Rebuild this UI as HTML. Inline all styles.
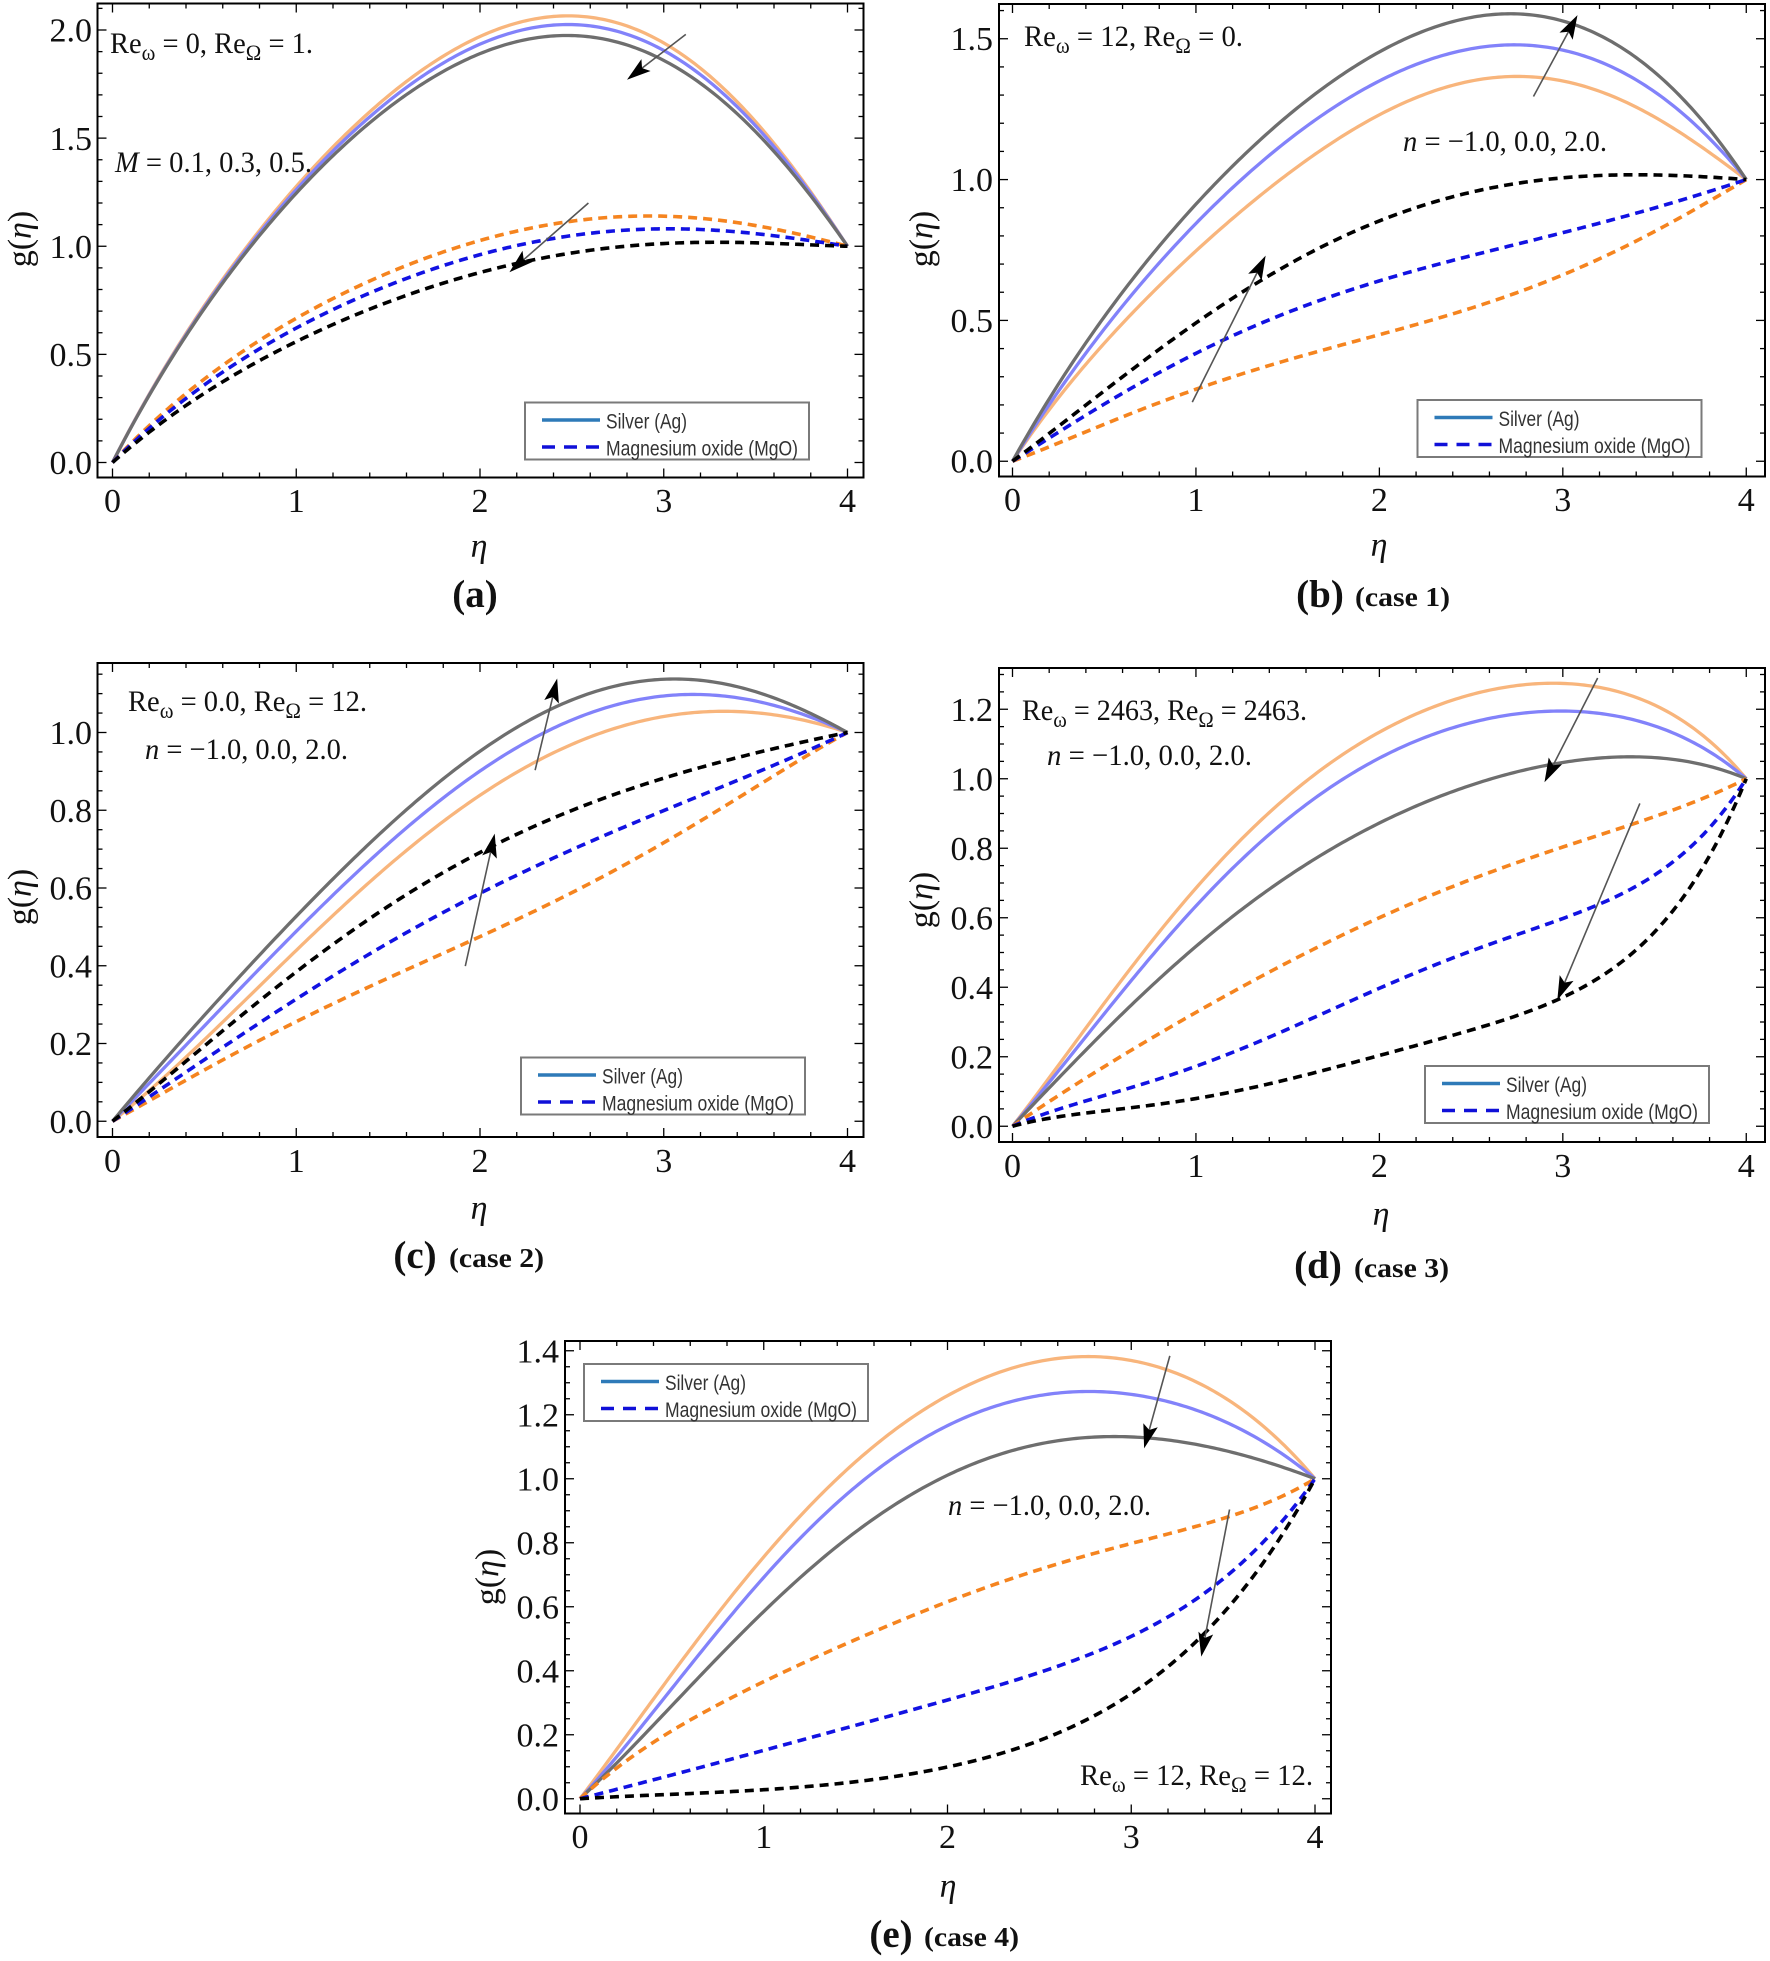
<!DOCTYPE html>
<html>
<head>
<meta charset="utf-8">
<style>
html,body{margin:0;padding:0;background:#fff;}
svg{display:block;}
text{font-family:"Liberation Serif","DejaVu Serif",serif;fill:#111;}
.tk{font-size:34px;}
.ax{font-size:34px;font-style:italic;}
.an{font-size:30px;}
.lg{font-family:"Liberation Sans","DejaVu Sans",sans-serif;font-size:21px;fill:#333;}
.pl{font-size:39px;font-weight:bold;}
.cs{font-size:27px;font-weight:bold;}
</style>
</head>
<body>
<svg id="chart" xmlns="http://www.w3.org/2000/svg" width="1770" height="1961" viewBox="0 0 1770 1961">
<rect x="0" y="0" width="1770" height="1961" fill="#fff"/>
<g id="axes"></g>
<g id="curves"></g>

<!-- Legends -->
<g transform="translate(525,402.5)">
<rect x="0" y="0" width="284" height="57" fill="#fff" stroke="#7a7a7a" stroke-width="2"/>
<line x1="17" y1="17.5" x2="75" y2="17.5" stroke="#2e7ab8" stroke-width="3.5"/>
<line x1="17" y1="44.5" x2="75" y2="44.5" stroke="#1010d8" stroke-width="3.5" stroke-dasharray="13 9"/>
<text class="lg" x="81" y="26" textLength="81" lengthAdjust="spacingAndGlyphs">Silver (Ag)</text>
<text class="lg" x="81" y="53" textLength="192" lengthAdjust="spacingAndGlyphs">Magnesium oxide (MgO)</text>
</g>
<g transform="translate(1417.5,400)">
<rect x="0" y="0" width="284" height="57" fill="#fff" stroke="#7a7a7a" stroke-width="2"/>
<line x1="17" y1="17.5" x2="75" y2="17.5" stroke="#2e7ab8" stroke-width="3.5"/>
<line x1="17" y1="44.5" x2="75" y2="44.5" stroke="#1010d8" stroke-width="3.5" stroke-dasharray="13 9"/>
<text class="lg" x="81" y="26" textLength="81" lengthAdjust="spacingAndGlyphs">Silver (Ag)</text>
<text class="lg" x="81" y="53" textLength="192" lengthAdjust="spacingAndGlyphs">Magnesium oxide (MgO)</text>
</g>
<g transform="translate(521,1057.5)">
<rect x="0" y="0" width="284" height="57" fill="#fff" stroke="#7a7a7a" stroke-width="2"/>
<line x1="17" y1="17.5" x2="75" y2="17.5" stroke="#2e7ab8" stroke-width="3.5"/>
<line x1="17" y1="44.5" x2="75" y2="44.5" stroke="#1010d8" stroke-width="3.5" stroke-dasharray="13 9"/>
<text class="lg" x="81" y="26" textLength="81" lengthAdjust="spacingAndGlyphs">Silver (Ag)</text>
<text class="lg" x="81" y="53" textLength="192" lengthAdjust="spacingAndGlyphs">Magnesium oxide (MgO)</text>
</g>
<g transform="translate(1425,1066)">
<rect x="0" y="0" width="284" height="57" fill="#fff" stroke="#7a7a7a" stroke-width="2"/>
<line x1="17" y1="17.5" x2="75" y2="17.5" stroke="#2e7ab8" stroke-width="3.5"/>
<line x1="17" y1="44.5" x2="75" y2="44.5" stroke="#1010d8" stroke-width="3.5" stroke-dasharray="13 9"/>
<text class="lg" x="81" y="26" textLength="81" lengthAdjust="spacingAndGlyphs">Silver (Ag)</text>
<text class="lg" x="81" y="53" textLength="192" lengthAdjust="spacingAndGlyphs">Magnesium oxide (MgO)</text>
</g>
<g transform="translate(584,1364)">
<rect x="0" y="0" width="284" height="57" fill="#fff" stroke="#7a7a7a" stroke-width="2"/>
<line x1="17" y1="17.5" x2="75" y2="17.5" stroke="#2e7ab8" stroke-width="3.5"/>
<line x1="17" y1="44.5" x2="75" y2="44.5" stroke="#1010d8" stroke-width="3.5" stroke-dasharray="13 9"/>
<text class="lg" x="81" y="26" textLength="81" lengthAdjust="spacingAndGlyphs">Silver (Ag)</text>
<text class="lg" x="81" y="53" textLength="192" lengthAdjust="spacingAndGlyphs">Magnesium oxide (MgO)</text>
</g>

<!-- tick labels -->
<g text-anchor="middle">
<text class="tk" x="112.5" y="512">0</text><text class="tk" x="296.25" y="512">1</text><text class="tk" x="480" y="512">2</text><text class="tk" x="663.75" y="512">3</text><text class="tk" x="847.5" y="512">4</text>
<text class="tk" x="1012.5" y="511">0</text><text class="tk" x="1195.9" y="511">1</text><text class="tk" x="1379.4" y="511">2</text><text class="tk" x="1562.8" y="511">3</text><text class="tk" x="1746.2" y="511">4</text>
<text class="tk" x="112.5" y="1172">0</text><text class="tk" x="296.25" y="1172">1</text><text class="tk" x="480" y="1172">2</text><text class="tk" x="663.75" y="1172">3</text><text class="tk" x="847.5" y="1172">4</text>
<text class="tk" x="1012.5" y="1177">0</text><text class="tk" x="1195.9" y="1177">1</text><text class="tk" x="1379.4" y="1177">2</text><text class="tk" x="1562.8" y="1177">3</text><text class="tk" x="1746.2" y="1177">4</text>
<text class="tk" x="580" y="1848">0</text><text class="tk" x="763.75" y="1848">1</text><text class="tk" x="947.5" y="1848">2</text><text class="tk" x="1131.25" y="1848">3</text><text class="tk" x="1315" y="1848">4</text>
</g>
<g text-anchor="end">
<text class="tk" x="92" y="474">0.0</text><text class="tk" x="92" y="366">0.5</text><text class="tk" x="92" y="258">1.0</text><text class="tk" x="92" y="150">1.5</text><text class="tk" x="92" y="41.5">2.0</text>
<text class="tk" x="993" y="472.5">0.0</text><text class="tk" x="993" y="332">0.5</text><text class="tk" x="993" y="191">1.0</text><text class="tk" x="993" y="50">1.5</text>
<text class="tk" x="92" y="1132.75">0.0</text><text class="tk" x="92" y="1055">0.2</text><text class="tk" x="92" y="977.25">0.4</text><text class="tk" x="92" y="899.5">0.6</text><text class="tk" x="92" y="821.75">0.8</text><text class="tk" x="92" y="744">1.0</text>
<text class="tk" x="993" y="1137.75">0.0</text><text class="tk" x="993" y="1068.25">0.2</text><text class="tk" x="993" y="998.75">0.4</text><text class="tk" x="993" y="929.25">0.6</text><text class="tk" x="993" y="859.75">0.8</text><text class="tk" x="993" y="790.25">1.0</text><text class="tk" x="993" y="720.75">1.2</text>
<text class="tk" x="559" y="1810.25">0.0</text><text class="tk" x="559" y="1746.25">0.2</text><text class="tk" x="559" y="1682.25">0.4</text><text class="tk" x="559" y="1618.25">0.6</text><text class="tk" x="559" y="1554.25">0.8</text><text class="tk" x="559" y="1490.25">1.0</text><text class="tk" x="559" y="1426.25">1.2</text><text class="tk" x="559" y="1362.25">1.4</text>
</g>

<!-- axis labels -->
<g text-anchor="middle">
<text class="ax" x="479" y="557">η</text>
<text class="ax" x="1379" y="556">η</text>
<text class="ax" x="479" y="1219">η</text>
<text class="ax" x="1381" y="1225">η</text>
<text class="ax" x="948" y="1897">η</text>
<text class="tk" transform="translate(31,239) rotate(-90)" font-size="32">g(<tspan font-style="italic">η</tspan>)</text>
<text class="tk" transform="translate(932.5,239) rotate(-90)" font-size="32">g(<tspan font-style="italic">η</tspan>)</text>
<text class="tk" transform="translate(31,897) rotate(-90)" font-size="32">g(<tspan font-style="italic">η</tspan>)</text>
<text class="tk" transform="translate(932.5,900) rotate(-90)" font-size="32">g(<tspan font-style="italic">η</tspan>)</text>
<text class="tk" transform="translate(498.5,1577) rotate(-90)" font-size="32">g(<tspan font-style="italic">η</tspan>)</text>
</g>

<!-- annotations -->
<text class="an" x="110" y="53" textLength="203" lengthAdjust="spacingAndGlyphs">Re<tspan font-size="22" dy="7">ω</tspan><tspan dy="-7"> = 0, Re</tspan><tspan font-size="22" dy="7">Ω</tspan><tspan dy="-7"> = 1.</tspan></text>
<text class="an" x="115" y="172" textLength="197" lengthAdjust="spacingAndGlyphs"><tspan font-style="italic">M</tspan> = 0.1, 0.3, 0.5.</text>

<text class="an" x="1024" y="46" textLength="219" lengthAdjust="spacingAndGlyphs">Re<tspan font-size="22" dy="7">ω</tspan><tspan dy="-7"> = 12, Re</tspan><tspan font-size="22" dy="7">Ω</tspan><tspan dy="-7"> = 0.</tspan></text>
<text class="an" x="1403" y="151" textLength="204" lengthAdjust="spacingAndGlyphs"><tspan font-style="italic">n</tspan> = −1.0, 0.0, 2.0.</text>

<text class="an" x="128" y="711" textLength="239" lengthAdjust="spacingAndGlyphs">Re<tspan font-size="22" dy="7">ω</tspan><tspan dy="-7"> = 0.0, Re</tspan><tspan font-size="22" dy="7">Ω</tspan><tspan dy="-7"> = 12.</tspan></text>
<text class="an" x="145" y="759" textLength="203" lengthAdjust="spacingAndGlyphs"><tspan font-style="italic">n</tspan> = −1.0, 0.0, 2.0.</text>

<text class="an" x="1022" y="720" textLength="285" lengthAdjust="spacingAndGlyphs">Re<tspan font-size="22" dy="7">ω</tspan><tspan dy="-7"> = 2463, Re</tspan><tspan font-size="22" dy="7">Ω</tspan><tspan dy="-7"> = 2463.</tspan></text>
<text class="an" x="1047" y="765" textLength="205" lengthAdjust="spacingAndGlyphs"><tspan font-style="italic">n</tspan> = −1.0, 0.0, 2.0.</text>

<text class="an" x="948" y="1515" textLength="203" lengthAdjust="spacingAndGlyphs"><tspan font-style="italic">n</tspan> = −1.0, 0.0, 2.0.</text>
<text class="an" x="1080" y="1785" textLength="233" lengthAdjust="spacingAndGlyphs">Re<tspan font-size="22" dy="7">ω</tspan><tspan dy="-7"> = 12, Re</tspan><tspan font-size="22" dy="7">Ω</tspan><tspan dy="-7"> = 12.</tspan></text>

<!-- panel labels -->
<text class="pl" x="475" y="607" text-anchor="middle">(a)</text>
<text class="pl" x="1320" y="607" text-anchor="middle">(b)</text>
<text class="cs" x="1355" y="606" textLength="95" lengthAdjust="spacingAndGlyphs">(case 1)</text>
<text class="pl" x="415" y="1268" text-anchor="middle">(c)</text>
<text class="cs" x="449" y="1267" textLength="95" lengthAdjust="spacingAndGlyphs">(case 2)</text>
<text class="pl" x="1318" y="1278" text-anchor="middle">(d)</text>
<text class="cs" x="1354" y="1277" textLength="95" lengthAdjust="spacingAndGlyphs">(case 3)</text>
<text class="pl" x="891" y="1947" text-anchor="middle">(e)</text>
<text class="cs" x="924" y="1946" textLength="95" lengthAdjust="spacingAndGlyphs">(case 4)</text>
</svg>

<script>
(function(){
const NS="http://www.w3.org/2000/svg";
const gAxes=document.getElementById('axes');
const gCurves=document.getElementById('curves');
function el(tag,attrs,parent){const e=document.createElementNS(NS,tag);for(const k in attrs)e.setAttribute(k,attrs[k]);parent.appendChild(e);return e;}
function polyfit(pts){
 const N=pts.length, deg=N>=7?5:(N==6?4:3), n=deg+1;
 const A=[];for(let i=0;i<n;i++){A.push(new Array(n+1).fill(0));}
 pts.forEach((p,i)=>{
  const w=(i==0||i==N-1)?200:1, t=p[0]/4, pw=[];
  for(let k=0;k<n;k++)pw.push(Math.pow(t,k));
  for(let r=0;r<n;r++){for(let c=0;c<n;c++)A[r][c]+=w*pw[r]*pw[c];A[r][n]+=w*pw[r]*p[1];}
 });
 for(let c=0;c<n;c++){
  let piv=c;for(let r=c+1;r<n;r++)if(Math.abs(A[r][c])>Math.abs(A[piv][c]))piv=r;
  const tmp=A[c];A[c]=A[piv];A[piv]=tmp;
  for(let r=0;r<n;r++){if(r==c)continue;const f=A[r][c]/A[c][c];for(let k=c;k<=n;k++)A[r][k]-=f*A[c][k];}
 }
 const co=[];for(let i=0;i<n;i++)co.push(A[i][n]/A[i][i]);
 const out=[];
 for(let s=0;s<=240;s++){const x=4*s/240,t=x/4;let y=0;for(let k=n-1;k>=0;k--)y=y*t+co[k];out.push([x,y]);}
 return out;
}
function curve(P,pts,color,width,dash){
 const s=polyfit(pts).map(p=>(P.x0+p[0]*P.xu).toFixed(2)+','+(P.y0-p[1]*P.yu).toFixed(2));
 const a={points:s.join(' '),fill:'none',stroke:color,'stroke-width':width,'stroke-linejoin':'round'};
 if(dash)a['stroke-dasharray']=dash;
 el('polyline',a,gCurves);
}
function arrow(P,a,b){
 const ax=P.x0+a[0]*P.xu, ay=P.y0-a[1]*P.yu, bx=P.x0+b[0]*P.xu, by=P.y0-b[1]*P.yu;
 const dx=bx-ax,dy=by-ay,L=Math.hypot(dx,dy),ux=dx/L,uy=dy/L,hl=24,hw=7.5;
 const cx=bx-ux*hl, cy=by-uy*hl;
 el('line',{x1:ax,y1:ay,x2:cx+ux*5,y2:cy+uy*5,stroke:'#555','stroke-width':1.6},gCurves);
 el('polygon',{points:`${bx},${by} ${cx-uy*hw},${cy+ux*hw} ${cx+ux*5},${cy+uy*5} ${cx+uy*hw},${cy-ux*hw}`,fill:'#000'},gCurves);
}
function frame(P){
 const g=el('g',{stroke:'#000','stroke-width':1.3},gAxes);
 for(let i=0;i<=20;i++){const x=P.x0+i*0.2*P.xu,len=(i%5==0)?9:5;
  el('line',{x1:x,y1:P.B,x2:x,y2:P.B-len},g);el('line',{x1:x,y1:P.T,x2:x,y2:P.T+len},g);}
 const n=Math.floor((P.y0-P.T)/P.yu/P.min+1e-6),r=Math.round(P.maj/P.min);
 for(let i=0;i<=n;i++){const y=P.y0-i*P.min*P.yu;if(y<P.T+2)continue;const len=(i%r==0)?9:5;
  el('line',{x1:P.L,y1:y,x2:P.L+len,y2:y},g);el('line',{x1:P.R,y1:y,x2:P.R-len,y2:y},g);}
 el('rect',{x:P.L,y:P.T,width:P.R-P.L,height:P.B-P.T,fill:'none',stroke:'#000','stroke-width':2},gAxes);
}
const OR='#f8b57c',BL='#8282fa',GR='#6e6e6e',DOR='#f5841f',DBL='#1212e2',DBK='#000',SW=3.3,DW=3.6,DA='9 6';
const panels={
 a:{x0:112.5,xu:183.75,y0:462.5,yu:216.25,L:97.5,R:863.5,T:3.5,B:477.5,maj:0.5,min:0.1,
  s:[[OR,[[0,0],[0.35,0.51],[0.7,0.98],[1.2,1.46],[1.84,1.9],[2.2,2.02],[2.5,2.06],[2.8,2.03],[3.1,1.9],[3.5,1.56],[4,1]]],
     [BL,[[0,0],[0.35,0.505],[0.7,0.97],[1.2,1.44],[1.84,1.87],[2.2,1.98],[2.5,2.02],[2.8,1.99],[3.1,1.87],[3.5,1.54],[4,1]]],
     [GR,[[0,0],[0.35,0.5],[0.7,0.96],[1.2,1.42],[1.84,1.83],[2.2,1.93],[2.5,1.97],[2.8,1.94],[3.1,1.83],[3.5,1.51],[4,1]]]],
  d:[[DOR,[[0,0],[0.5,0.39],[1,0.66],[1.5,0.88],[2,1.03],[2.5,1.11],[2.8,1.14],[3.2,1.13],[3.6,1.08],[4,1]]],
     [DBL,[[0,0],[0.5,0.36],[1,0.62],[1.5,0.82],[2,0.96],[2.5,1.05],[2.9,1.08],[3.3,1.07],[3.7,1.04],[4,1]]],
     [DBK,[[0,0],[0.5,0.32],[1,0.56],[1.5,0.74],[2,0.88],[2.5,0.97],[3.0,1.01],[3.3,1.02],[3.7,1.01],[4,1]]]],
  ar:[[[3.12,1.98],[2.80,1.77]],[[2.59,1.20],[2.16,0.88]]]},
 b:{x0:1012.5,xu:183.44,y0:461.25,yu:281.67,L:999,R:1765,T:4,B:476.5,maj:0.5,min:0.1,
  s:[[OR,[[0,0],[0.59,0.5],[1.0,0.72],[1.45,1.0],[1.9,1.21],[2.3,1.31],[2.71,1.36],[3.1,1.33],[3.5,1.23],[4,1]]],
     [BL,[[0,0],[0.53,0.5],[1.27,1.0],[1.7,1.24],[2.1,1.39],[2.68,1.475],[3.0,1.45],[3.5,1.32],[4,1]]],
     [GR,[[0,0],[0.48,0.5],[1.14,1.0],[1.6,1.28],[2.0,1.46],[2.63,1.59],[3.0,1.55],[3.5,1.39],[4,1]]]],
  d:[[DOR,[[0,0],[0.5,0.13],[0.993,0.256],[1.79,0.41],[2.59,0.565],[3.13,0.696],[3.53,0.827],[4,1]]],
     [DBL,[[0,0],[0.5,0.2],[1,0.39],[1.5,0.52],[2,0.645],[2.5,0.73],[3,0.81],[3.5,0.9],[4,1]]],
     [DBK,[[0,0],[0.46,0.23],[1,0.49],[1.5,0.70],[1.79,0.79],[2.33,0.93],[2.86,0.994],[3.39,1.018],[4,1]]]],
  ar:[[[2.84,1.295],[3.08,1.584]],[[0.98,0.21],[1.38,0.73]]]},
 c:{x0:112.5,xu:183.75,y0:1121.25,yu:388.75,L:97.5,R:863.5,T:663,B:1137,maj:0.2,min:0.05,
  s:[[OR,[[0,0],[0.5,0.21],[1,0.44],[1.5,0.655],[2,0.84],[2.5,0.97],[3.28,1.052],[3.7,1.04],[4,1]]],
     [BL,[[0,0],[0.5,0.245],[1,0.49],[1.5,0.71],[2,0.905],[2.5,1.03],[3.13,1.098],[3.6,1.07],[4,1]]],
     [GR,[[0,0],[0.5,0.27],[1,0.53],[1.5,0.76],[2,0.95],[2.5,1.08],[3.02,1.145],[3.5,1.10],[4,1]]]],
  d:[[DOR,[[0,0],[0.5,0.13],[1,0.26],[1.5,0.365],[2,0.475],[2.5,0.59],[3,0.715],[3.5,0.86],[4,1]]],
     [DBL,[[0,0],[0.5,0.155],[1,0.32],[1.5,0.455],[2,0.585],[2.5,0.70],[3,0.80],[3.5,0.895],[4,1]]],
     [DBK,[[0,0],[0.5,0.19],[1,0.39],[1.5,0.55],[2,0.69],[2.5,0.80],[3,0.885],[3.5,0.945],[4,1]]]],
  ar:[[[2.30,0.903],[2.42,1.139]],[[1.92,0.399],[2.08,0.74]]]},
 d:{x0:1012.5,xu:183.44,y0:1126.25,yu:347.5,L:999,R:1765,T:668,B:1142,maj:0.2,min:0.05,
  s:[[OR,[[0,0],[0.5,0.35],[1,0.69],[1.5,0.95],[2,1.13],[2.5,1.24],[2.83,1.277],[3.2,1.265],[3.6,1.18],[4,1]]],
     [BL,[[0,0],[0.5,0.32],[1,0.64],[1.5,0.88],[2,1.06],[2.5,1.16],[2.92,1.197],[3.3,1.18],[3.6,1.13],[4,1]]],
     [GR,[[0,0],[0.5,0.27],[1,0.52],[1.5,0.72],[2,0.87],[2.5,0.98],[3.2,1.066],[3.6,1.05],[4,1]]]],
  d:[[DOR,[[0,0],[0.5,0.17],[1,0.33],[1.5,0.47],[2,0.6],[2.5,0.71],[3,0.805],[3.5,0.89],[4,1]]],
     [DBL,[[0,0],[0.5,0.09],[1,0.17],[1.5,0.28],[2,0.40],[2.5,0.50],[3,0.60],[3.6,0.76],[4,1]]],
     [DBK,[[0,0],[0.5,0.04],[1,0.085],[1.5,0.135],[2,0.20],[2.5,0.275],[3,0.375],[3.3,0.47],[3.6,0.61],[3.85,0.83],[4,1]]]],
  ar:[[[3.19,1.29],[2.90,0.99]],[[3.42,0.929],[2.97,0.363]]]},
 e:{x0:580,xu:183.75,y0:1798.75,yu:320,L:565,R:1331,T:1341,B:1813.5,maj:0.2,min:0.05,
  s:[[OR,[[0,0],[0.5,0.38],[1,0.77],[1.5,1.05],[2,1.25],[2.69,1.388],[3.1,1.36],[3.5,1.25],[4,1]]],
     [BL,[[0,0],[0.5,0.34],[1,0.70],[1.5,0.97],[2,1.165],[2.77,1.276],[3.2,1.24],[3.5,1.18],[4,1]]],
     [GR,[[0,0],[0.5,0.28],[1,0.6],[1.633,0.887],[2,1.0],[2.5,1.11],[2.99,1.143],[3.5,1.08],[4,1]]]],
  d:[[DOR,[[0,0],[0.5,0.21],[1,0.37],[1.633,0.527],[2.54,0.725],[3.447,0.866],[4,1]]],
     [DBL,[[0,0],[0.5,0.075],[1,0.15],[1.633,0.251],[2.358,0.371],[2.902,0.475],[3.447,0.673],[3.81,0.85],[4,1]]],
     [DBK,[[0,0],[0.5,0.012],[1,0.03],[1.633,0.064],[2.177,0.121],[2.721,0.236],[3.084,0.361],[3.356,0.496],[3.628,0.673],[3.9,0.88],[4,1]]]],
  ar:[[[3.21,1.384],[3.07,1.095]],[[3.535,0.904],[3.381,0.444]]]}
};
for(const k in panels){
 const P=panels[k];
 frame(P);
 P.s.forEach(c=>curve(P,c[1],c[0],SW));
 P.d.forEach(c=>curve(P,c[1],c[0],DW,DA));
 P.ar.forEach(a=>arrow(P,a[0],a[1]));
}
})();
</script>
</body>
</html>
